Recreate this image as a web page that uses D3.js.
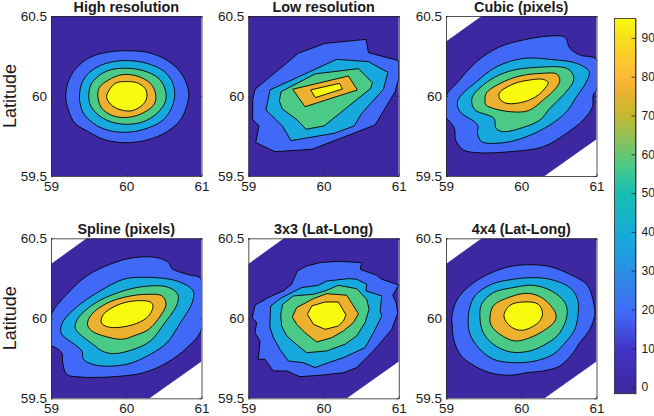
<!DOCTYPE html>
<html>
<head>
<meta charset="utf-8">
<style>
  html, body { margin: 0; padding: 0; background: #fff; }
  svg { display: block; }
  text { font-family: "Liberation Sans", Arial, sans-serif; fill: #1a1a1a; }
</style>
<script src="https://d3js.org/d3.v7.min.js"></script>
</head>
<body>
<svg width="654" height="416"></svg>
<script>
// contour levels and the colour found at each value of the bar
var levels = [0, 19, 38, 57, 76, 95];
var colorValues = [-1.7, 0, 10, 19, 30, 38, 50, 57, 70, 76, 80, 90, 95];
var colorStops = ["#3f2b98", "#3d28a2", "#4236c8", "#4169f7", "#2a8fe2", "#17a9dd", "#16bfb0", "#4bca87", "#c4b930", "#ebb12f", "#ffb838", "#f8df1c", "#f9fb0e"];

var titles = ["High resolution", "Low resolution", "Cubic (pixels)", "Spline (pixels)", "3x3 (Lat-Long)", "4x4 (Lat-Long)"];
var lonTicks = [59, 60, 61];
var latTicks = [59.5, 60, 60.5];
var barTicks = [0, 10, 20, 30, 40, 50, 60, 70, 80, 90];

// valid area of the rotated swath, lon/lat
var fullArea = [[59, 59.5], [59, 60.5], [61, 60.5], [61, 59.5]];
var swathArea = [[59, 60.34], [59.475, 60.5], [61, 60.5], [61, 59.73], [60.31, 59.5], [59, 59.5]];

// contour rings lon/lat, one per level above the lowest
var highRes = [
  [[59.196,60],[59.231,60.09],[59.333,60.173],[59.52,60.242],[59.742,60.273],[60,60.283],[60.276,60.273],[60.498,60.235],[60.65,60.185],[60.76,60.12],[60.831,60.017],[60.8,59.933],[60.72,59.85],[60.542,59.777],[60.276,59.725],[59.987,59.708],[59.698,59.729],[59.498,59.777],[59.32,59.829],[59.231,59.913]],
  [[59.378,60],[59.409,60.079],[59.498,60.142],[59.653,60.19],[59.831,60.215],[60.031,60.221],[60.276,60.204],[60.498,60.156],[60.609,60.09],[60.644,60.017],[60.609,59.933],[60.498,59.854],[60.276,59.798],[60,59.773],[59.742,59.788],[59.564,59.829],[59.431,59.892],[59.387,59.954]],
  [[59.502,60],[59.529,60.069],[59.631,60.125],[59.787,60.163],[60,60.173],[60.231,60.158],[60.431,60.11],[60.52,60.038],[60.52,59.965],[60.409,59.892],[60.231,59.84],[60,59.823],[59.787,59.84],[59.631,59.881],[59.529,59.938]],
  [[59.622,60],[59.644,60.054],[59.764,60.1],[59.942,60.133],[60.142,60.125],[60.32,60.079],[60.391,60.013],[60.373,59.95],[60.231,59.896],[60.031,59.867],[59.831,59.875],[59.676,59.923]],
  [[59.742,60.006],[59.751,59.975],[59.853,59.927],[60.076,59.908],[60.253,59.965],[60.267,60.033],[60.164,60.079],[60.031,60.09],[59.853,60.079]]
];
var lowRes = [
  [[59.089,60.042],[59.665,60.267],[60.02,60.329],[60.565,60.354],[60.596,60.271],[61,60.221],[61,60.11],[60.951,60.027],[60.685,59.819],[59.847,59.667],[59.355,59.652],[59.098,59.71],[59.142,59.813],[59.058,59.854],[59.058,59.975]],
  [[59.288,60.038],[60.175,60.229],[60.596,60.215],[60.854,60.148],[60.796,60.042],[60.508,59.892],[60.406,59.813],[60.144,59.767],[59.568,59.721],[59.452,59.813],[59.235,59.913]],
  [[59.435,60.027],[59.887,60.138],[60.463,60.171],[60.65,60.083],[60.627,60.048],[60.007,59.813],[59.767,59.792],[59.652,59.85],[59.452,59.919],[59.412,59.969]],
  [[59.59,60.042],[60.33,60.125],[60.45,60.038],[59.754,59.933]],
  [[59.829,60.038],[60.211,60.079],[60.251,60.044],[59.891,59.99]]
];
var cubicPixels = [
  [[59,60],[59.142,60.079],[59.407,60.215],[59.717,60.308],[60.027,60.35],[60.381,60.375],[60.58,60.367],[60.646,60.298],[60.779,60.256],[61,60.229],[61,60.038],[60.956,60.006],[60.947,59.933],[60.823,59.85],[60.602,59.767],[60.292,59.683],[59.85,59.652],[59.407,59.646],[59.23,59.663],[59.128,59.725],[59.111,59.798],[59.009,59.86],[59,59.86]],
  [[59.15,59.954],[59.186,59.996],[59.407,60.09],[59.673,60.183],[60.027,60.235],[60.381,60.229],[60.735,60.204],[60.903,60.152],[60.867,60.09],[60.735,59.996],[60.602,59.902],[60.381,59.819],[60.071,59.746],[59.761,59.708],[59.473,59.715],[59.42,59.767],[59.42,59.819],[59.186,59.902]],
  [[59.341,59.965],[59.363,60.006],[59.584,60.1],[59.85,60.156],[60.204,60.179],[60.602,60.173],[60.69,60.131],[60.69,60.09],[60.558,60.006],[60.381,59.923],[60.248,59.85],[60.027,59.804],[59.761,59.777],[59.664,59.798],[59.637,59.86],[59.385,59.913]],
  [[59.518,59.975],[59.54,60.021],[59.739,60.083],[59.982,60.125],[60.292,60.142],[60.469,60.138],[60.513,60.1],[60.469,60.054],[60.292,59.975],[60.093,59.908],[59.85,59.902],[59.628,59.923],[59.531,59.944]],
  [[59.708,60.017],[59.894,60.075],[60.115,60.1],[60.292,60.104],[60.358,60.083],[60.314,60.048],[60.226,60.006],[60.049,59.965],[59.805,59.954],[59.717,59.981]]
];
var splinePixels = [
  [[59,60.015],[59.209,60.15],[59.476,60.265],[59.787,60.338],[60.098,60.379],[60.409,60.379],[60.564,60.348],[60.609,60.31],[60.809,60.275],[61,60.244],[61,59.931],[60.809,59.817],[60.542,59.723],[60.231,59.66],[59.831,59.635],[59.387,59.633],[59.209,59.65],[59.156,59.723],[59.142,59.785],[59.031,59.823],[59,59.827]],
  [[59.129,59.931],[59.164,59.983],[59.387,60.088],[59.653,60.171],[59.964,60.244],[60.276,60.256],[60.676,60.233],[60.889,60.171],[60.876,60.098],[60.72,59.973],[60.542,59.848],[60.32,59.775],[60.009,59.713],[59.609,59.706],[59.431,59.744],[59.409,59.796],[59.142,59.9]],
  [[59.32,59.952],[59.364,60.004],[59.564,60.088],[59.831,60.15],[60.187,60.196],[60.542,60.196],[60.684,60.15],[60.676,60.088],[60.498,59.963],[60.32,59.858],[60.098,59.806],[59.831,59.779],[59.676,59.796],[59.587,59.827],[59.342,59.921]],
  [[59.484,59.963],[59.542,60.025],[59.742,60.094],[60.009,60.135],[60.276,60.15],[60.476,60.14],[60.529,60.088],[60.453,60.015],[60.298,59.931],[60.098,59.89],[59.942,59.869],[59.698,59.89],[59.542,59.921]],
  [[59.667,59.977],[59.698,60.025],[59.876,60.081],[60.098,60.108],[60.32,60.102],[60.356,60.077],[60.298,60.015],[60.142,59.969],[59.876,59.942],[59.72,59.952]]
];
var latLong3 = [
  [[59.053,60.004],[59.089,60.083],[59.31,60.14],[59.466,60.171],[59.576,60.213],[59.652,60.296],[59.776,60.327],[59.953,60.348],[60.197,60.356],[60.508,60.348],[60.486,60.306],[60.707,60.269],[60.774,60.244],[61,60.208],[60.92,60.144],[60.965,60.098],[60.987,60.035],[60.907,59.931],[60.796,59.869],[60.663,59.796],[60.441,59.692],[60.264,59.66],[59.953,59.644],[59.687,59.635],[59.51,59.671],[59.333,59.671],[59.222,59.744],[59.133,59.744],[59.155,59.858],[59.089,59.91],[59.111,59.973]],
  [[59.297,60.077],[59.443,60.129],[59.71,60.192],[59.931,60.206],[60.042,60.233],[60.33,60.248],[60.441,60.244],[60.574,60.213],[60.565,60.171],[60.774,60.14],[60.752,60.046],[60.774,60.015],[60.663,59.91],[60.552,59.817],[60.264,59.754],[60.064,59.723],[59.887,59.692],[59.732,59.723],[59.532,59.733],[59.421,59.806],[59.333,59.879],[59.288,59.942],[59.288,59.973]],
  [[59.43,60.025],[59.457,60.088],[59.599,60.14],[59.865,60.15],[60.02,60.171],[60.197,60.206],[60.441,60.185],[60.574,60.119],[60.605,60.056],[60.552,59.973],[60.441,59.89],[60.286,59.838],[60.042,59.796],[59.776,59.785],[59.665,59.827],[59.51,59.89],[59.443,59.952]],
  [[59.585,60.008],[59.643,60.067],[59.865,60.123],[60.042,60.154],[60.308,60.144],[60.463,60.029],[60.397,59.973],[60.264,59.921],[60.109,59.879],[59.909,59.852],[59.754,59.91],[59.643,59.963]],
  [[59.785,60.025],[59.843,60.077],[60.02,60.102],[60.197,60.102],[60.299,60.021],[60.264,59.983],[60.197,59.952],[60.02,59.931],[59.865,59.963]]
];
var latLong4 = [
  [[59.075,59.994],[59.097,60.056],[59.164,60.129],[59.341,60.213],[59.584,60.281],[59.85,60.323],[60.115,60.335],[60.381,60.323],[60.646,60.275],[60.867,60.213],[60.934,60.15],[60.969,60.077],[60.978,60.025],[60.912,59.931],[60.779,59.848],[60.69,59.785],[60.513,59.702],[60.292,59.671],[60.071,59.66],[59.85,59.644],[59.584,59.66],[59.341,59.713],[59.186,59.775],[59.097,59.879],[59.084,59.952]],
  [[59.296,59.963],[59.31,60.056],[59.385,60.14],[59.606,60.213],[59.894,60.244],[60.115,60.254],[60.381,60.244],[60.646,60.192],[60.748,60.119],[60.757,60.035],[60.712,59.931],[60.602,59.858],[60.425,59.775],[60.181,59.733],[59.894,59.723],[59.628,59.744],[59.429,59.817],[59.319,59.9]],
  [[59.451,60.004],[59.473,60.088],[59.628,60.16],[59.894,60.192],[60.159,60.206],[60.403,60.171],[60.58,60.098],[60.611,60.025],[60.513,59.91],[60.358,59.848],[60.115,59.796],[59.85,59.79],[59.628,59.838],[59.496,59.91]],
  [[59.584,59.994],[59.628,60.077],[59.85,60.133],[60.093,60.156],[60.292,60.123],[60.456,60.031],[60.447,59.983],[60.292,59.921],[60.115,59.879],[59.916,59.858],[59.717,59.9],[59.606,59.952]],
  [[59.77,60.015],[59.85,60.081],[60.027,60.102],[60.226,60.088],[60.283,60.029],[60.226,59.973],[60.004,59.925],[59.85,59.952]]
];

var panelRings = [highRes, lowRes, cubicPixels, splinePixels, latLong3, latLong4];
var panelAreas = [fullArea, fullArea, swathArea, swathArea, swathArea, swathArea];
var panelSmooth = [true, false, true, true, false, true];

function main() {
    var svg = d3.select("svg");
    var colX = [51, 248.3, 446],
        rowY = [16, 238.3],
        panelW = 150.5,
        panelH = 160;

    var color = d3.scaleLinear().domain(colorValues).range(colorStops);
    var xScale = d3.scaleLinear().domain([59, 61]).range([0, panelW]),
        yScale = d3.scaleLinear().domain([59.5, 60.5]).range([panelH, 0]);

    var lineSmooth = d3.line().x(d => xScale(d[0])).y(d => yScale(d[1])).curve(d3.curveCatmullRomClosed.alpha(0.5));
    var lineStraight = d3.line().x(d => xScale(d[0])).y(d => yScale(d[1])).curve(d3.curveLinearClosed);

    svg.append("defs").append("clipPath").attr("id", "plotClip")
        .append("rect").attr("width", panelW).attr("height", panelH);

    titles.forEach(function(title, i) {
        var col = i % 3, row = Math.floor(i / 3);
        var g = svg.append("g").attr("transform", "translate(" + colX[col] + "," + rowY[row] + ")");
        var plot = g.append("g").attr("clip-path", "url(#plotClip)");

        plot.append("path").attr("d", lineStraight(panelAreas[i])).attr("fill", color(levels[0]));

        var line = panelSmooth[i] ? lineSmooth : lineStraight;
        plot.selectAll(".ring")
            .data(panelRings[i])
            .enter().append("path")
            .attr("class", "ring")
            .attr("d", d => line(d))
            .attr("fill", (d, k) => color(levels[k + 1]))
            .attr("stroke", "#000")
            .attr("stroke-width", 0.9)
            .attr("stroke-linejoin", "round");

        // box with inward ticks on all four sides
        var bottom = g.append("g").attr("transform", "translate(0," + panelH + ")")
            .call(d3.axisBottom(xScale).tickValues(lonTicks).tickFormat(d3.format("d")).tickSizeInner(-2).tickSizeOuter(0).tickPadding(5.4));
        var left = g.append("g")
            .call(d3.axisLeft(yScale).tickValues(latTicks).tickFormat(d => d === 60 ? "60" : d3.format(".1f")(d)).tickSizeInner(-2).tickSizeOuter(0).tickPadding(4));
        var top = g.append("g")
            .call(d3.axisTop(xScale).tickValues(lonTicks).tickFormat("").tickSizeInner(-2).tickSizeOuter(0));
        var right = g.append("g").attr("transform", "translate(" + panelW + ",0)")
            .call(d3.axisRight(yScale).tickValues(latTicks).tickFormat("").tickSizeInner(-2).tickSizeOuter(0));
        [bottom, left, top, right].forEach(function(a) {
            a.selectAll("path").attr("stroke", "#262626").attr("stroke-width", 0.8);
            a.selectAll("line").attr("stroke", "#262626").attr("stroke-width", 0.8);
            a.selectAll("text").attr("font-size", "13.5px").attr("fill", "#1a1a1a").attr("font-family", '"Liberation Sans", Arial, sans-serif');
        });

        g.append("text")
            .attr("x", panelW / 2)
            .attr("y", -4.3)
            .attr("text-anchor", "middle")
            .attr("font-size", "14.4px")
            .attr("font-weight", "bold")
            .text(title);

        if (col === 0) {
            g.append("text")
                .attr("transform", "translate(-35," + panelH / 2 + ") rotate(-90)")
                .attr("text-anchor", "middle")
                .attr("font-size", "18px")
                .text("Latitude");
        }
    });

    // colour bar
    var barX = 614.5, barW = 21, barTop = 18.5, barBottom = 393.7;
    var barScale = d3.scaleLinear().domain([-1.7, 95]).range([barBottom, barTop]);
    var grad = svg.select("defs").append("linearGradient").attr("id", "barGrad")
        .attr("x1", 0).attr("x2", 0).attr("y1", 1).attr("y2", 0);
    colorValues.forEach(function(v, i) {
        grad.append("stop").attr("offset", (v + 1.7) / 96.7).attr("stop-color", colorStops[i]);
    });
    svg.append("rect").attr("x", barX).attr("y", barTop).attr("width", barW).attr("height", barBottom - barTop)
        .attr("fill", "url(#barGrad)").attr("stroke", "#262626").attr("stroke-width", 0.8);
    var barAxis = svg.append("g").attr("transform", "translate(" + (barX + barW) + ",0)")
        .call(d3.axisRight(barScale).tickValues(barTicks).tickFormat(d3.format("d")).tickSizeInner(-4).tickSizeOuter(0).tickPadding(6));
    barAxis.select("path").attr("stroke", "#262626").attr("stroke-width", 0.8);
    barAxis.selectAll("line").attr("stroke", "#262626").attr("stroke-width", 0.8);
    barAxis.selectAll("text").attr("font-size", "12px").attr("fill", "#1a1a1a").attr("font-family", '"Liberation Sans", Arial, sans-serif');
}

main();
</script>
</body>
</html>
